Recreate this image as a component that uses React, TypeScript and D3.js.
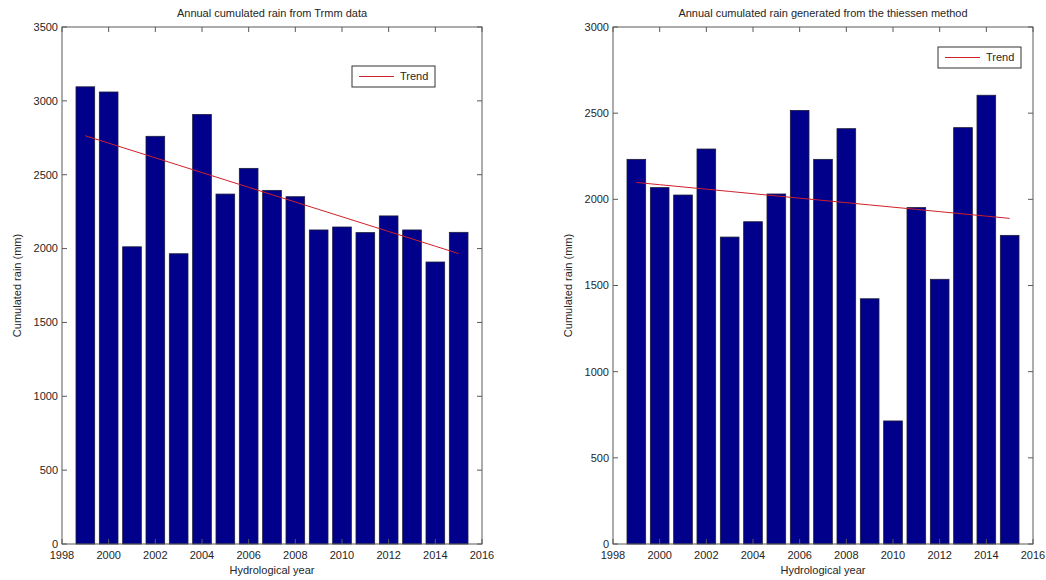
import React from "react";
import * as d3 from "d3";

// hydrological years and annual rain (mm)
const years = [1999, 2000, 2001, 2002, 2003, 2004, 2005, 2006, 2007, 2008, 2009, 2010, 2011, 2012, 2013, 2014, 2015];
const trmmRain = [3095, 3060, 2012, 2760, 1965, 2908, 2369, 2543, 2394, 2351, 2126, 2146, 2108, 2221, 2126, 1909, 2110];
const thiessenRain = [2232, 2068, 2025, 2292, 1781, 1870, 2031, 2516, 2232, 2410, 1423, 714, 1952, 1536, 2416, 2604, 1791];

const xTicks = [1998, 2000, 2002, 2004, 2006, 2008, 2010, 2012, 2014, 2016];
const trmmTicks = [0, 500, 1000, 1500, 2000, 2500, 3000, 3500];
const thiessenTicks = [0, 500, 1000, 1500, 2000, 2500, 3000];

const FONT = "'Liberation Sans', Arial, Helvetica, sans-serif";
const TEXT = "#262626";
const AXIS = "#5a5a5a";

// least squares trend over the years
function trend(xs: number[], ys: number[]) {
  const mx = d3.mean(xs)!;
  const my = d3.mean(ys)!;
  const num = d3.sum(xs, (x, i) => (x - mx) * (ys[i] - my));
  const den = d3.sum(xs, (x) => (x - mx) ** 2);
  const slope = num / den;
  return xs.map((x) => ({ x, y: my + slope * (x - mx) }));
}

type PanelProps = {
  left: number;
  right: number;
  top: number;
  bottom: number;
  values: number[];
  yTicks: number[];
  title: string;
  legend: { x: number; y: number };
};

const Panel = ({ left, right, top, bottom, values, yTicks, title, legend }: PanelProps) => {
  const x = d3.scaleLinear().domain([1998, 2016]).range([left, right]);
  const y = d3.scaleLinear().domain([0, d3.max(yTicks)!]).range([bottom, top]);
  const barW = 0.8 * (x(1) - x(0));
  const fit = trend(years, values);
  const line = d3
    .line<{ x: number; y: number }>()
    .x((d) => x(d.x))
    .y((d) => y(d.y));
  const tick = 5;

  return (
    <g fontFamily={FONT}>
      {values.map((v, i) => (
        <rect
          key={years[i]}
          x={x(years[i]) - barW / 2}
          y={y(v)}
          width={barW}
          height={y(0) - y(v)}
          fill="#00008b"
          stroke="#1c1c3c"
          strokeWidth={0.8}
        />
      ))}
      <path d={line(fit)!} fill="none" stroke="#d0202a" strokeWidth={1} />

      <rect x={left} y={top} width={right - left} height={bottom - top} fill="none" stroke={AXIS} strokeWidth={1} />
      {xTicks.map((t) => (
        <g key={t}>
          <line x1={x(t)} x2={x(t)} y1={bottom} y2={bottom - tick} stroke={AXIS} />
          <line x1={x(t)} x2={x(t)} y1={top} y2={top + tick} stroke={AXIS} />
          <text x={x(t)} y={bottom + 15} textAnchor="middle" fontSize={11} fill={TEXT}>
            {t}
          </text>
        </g>
      ))}
      {yTicks.map((t) => (
        <g key={t}>
          <line x1={left} x2={left + tick} y1={y(t)} y2={y(t)} stroke={AXIS} />
          <line x1={right} x2={right - tick} y1={y(t)} y2={y(t)} stroke={AXIS} />
          <text x={left - 4} y={y(t)} dy="0.35em" textAnchor="end" fontSize={11} fill={TEXT}>
            {t}
          </text>
        </g>
      ))}

      <text x={(left + right) / 2} y={top - 10} textAnchor="middle" fontSize={11} fill={TEXT}>
        {title}
      </text>
      <text x={(left + right) / 2} y={bottom + 30} textAnchor="middle" fontSize={11} fill={TEXT}>
        Hydrological year
      </text>
      <text
        transform={`translate(${left - 41},${(top + bottom) / 2}) rotate(-90)`}
        textAnchor="middle"
        fontSize={11}
        fill={TEXT}
      >
        Cumulated rain (mm)
      </text>

      {/* legend */}
      <rect x={legend.x} y={legend.y} width={83} height={21} fill="#fff" stroke="#333" strokeWidth={1} />
      <line x1={legend.x + 7} x2={legend.x + 42} y1={legend.y + 10.5} y2={legend.y + 10.5} stroke="#d0202a" />
      <text x={legend.x + 48} y={legend.y + 10.5} dy="0.35em" fontSize={11} fill={TEXT}>
        Trend
      </text>
    </g>
  );
};

export default function App() {
  return (
    <svg
      width={1046}
      height={580}
      style={{ position: "absolute", left: 0, top: 0, background: "#fff" }}
    >
      <Panel
        left={62}
        right={482}
        top={27}
        bottom={544}
        values={trmmRain}
        yTicks={trmmTicks}
        title="Annual cumulated rain from Trmm data"
        legend={{ x: 352, y: 66 }}
      />
      <Panel
        left={613}
        right={1033}
        top={27}
        bottom={544}
        values={thiessenRain}
        yTicks={thiessenTicks}
        title="Annual cumulated rain generated from the thiessen method"
        legend={{ x: 938, y: 47 }}
      />
    </svg>
  );
}
